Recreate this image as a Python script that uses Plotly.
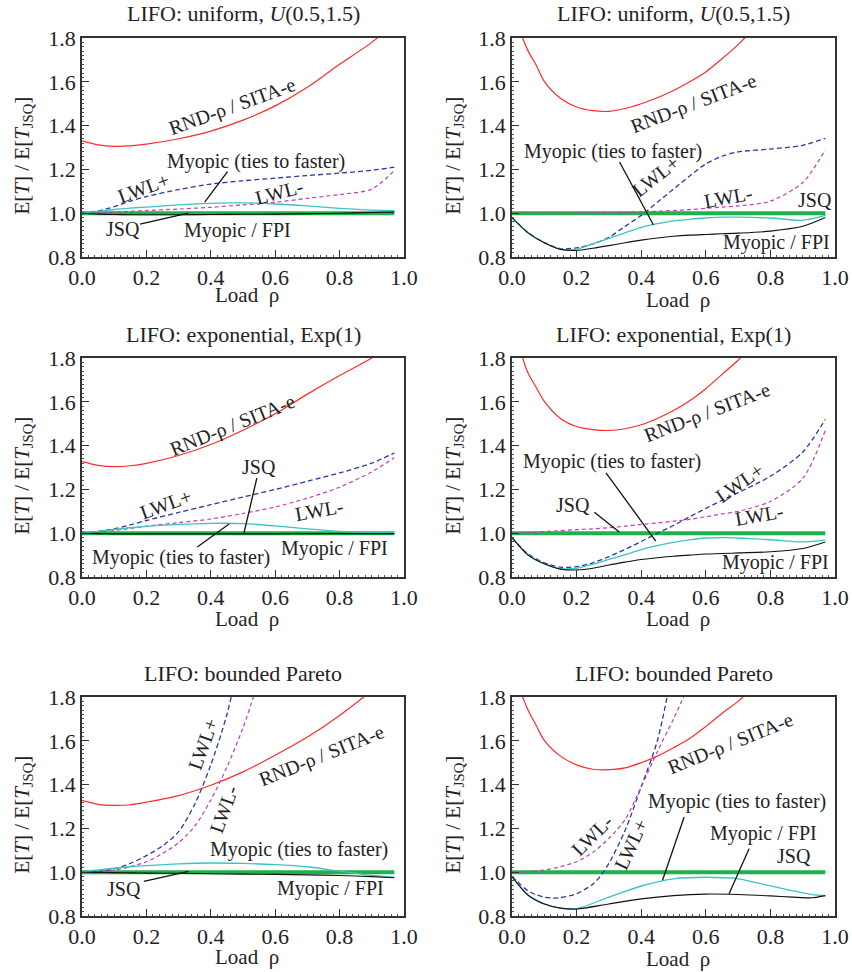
import plotly.graph_objects as go

# ---------------- data ----------------
RHO = [0.0, 0.05, 0.1, 0.15, 0.2, 0.3, 0.4, 0.5, 0.6, 0.7, 0.8, 0.9, 0.97]
RHO2 = [0.0, 0.05, 0.1, 0.15, 0.2, 0.25, 0.3, 0.35, 0.4, 0.45, 0.5, 0.55, 0.6, 0.65, 0.7, 0.8, 0.9, 0.97]
RHO_RED = [0.0, 0.033, 0.05, 0.075, 0.1, 0.15, 0.2, 0.25, 0.3, 0.35, 0.4, 0.45, 0.5, 0.55, 0.6, 0.65, 0.7, 0.75]
RHO_LWL = [0.0, 0.05, 0.1, 0.15, 0.2, 0.25, 0.3, 0.35, 0.4, 0.45, 0.5, 0.55]
RHO_BRB = [0.0, 0.025, 0.05, 0.075, 0.1, 0.125, 0.15, 0.2, 0.25, 0.275, 0.3, 0.35, 0.4, 0.45, 0.5]
RHO_BRM = [0.0, 0.05, 0.1, 0.15, 0.2, 0.3, 0.4, 0.5, 0.6, 0.7, 0.8, 0.87, 0.93, 0.97]
JSQ_X = [0.0, 0.97]
JSQ_Y = [1.0, 1.0]

# panel 1: uniform, left
p1_red = [1.33, 1.312, 1.305, 1.307, 1.315, 1.34, 1.375, 1.425, 1.49, 1.575, 1.68, 1.78, 1.87]
p1_lwlp = [1.0, 1.01, 1.03, 1.055, 1.076, 1.108, 1.133, 1.148, 1.16, 1.172, 1.183, 1.196, 1.21]
p1_lwlm = [1.0, 1.002, 1.005, 1.008, 1.012, 1.019, 1.027, 1.038, 1.05, 1.068, 1.085, 1.11, 1.195]
p1_myt = [1.0, 1.008, 1.017, 1.023, 1.028, 1.038, 1.045, 1.047, 1.042, 1.033, 1.022, 1.014, 1.012]
p1_fpi = [1.0, 0.996, 0.994, 0.993, 0.993, 0.993, 0.994, 0.995, 0.996, 0.998, 1.0, 1.003, 1.005]

# panel 2: uniform, right
p2_red = [1.95, 1.8, 1.74, 1.676, 1.602, 1.525, 1.485, 1.468, 1.465, 1.478, 1.5, 1.527, 1.56, 1.6, 1.645, 1.705, 1.77, 1.845]
p2_lwlp = [0.98, 0.91, 0.866, 0.838, 0.842, 0.86, 0.89, 0.94, 0.99, 1.05, 1.11, 1.17, 1.225, 1.26, 1.28, 1.293, 1.31, 1.342]
p2_lwlm = [1.0, 1.0, 1.0, 1.0, 1.001, 1.002, 1.003, 1.004, 1.006, 1.009, 1.012, 1.016, 1.022, 1.028, 1.033, 1.055, 1.14, 1.29]
p2_myt = [0.98, 0.91, 0.865, 0.836, 0.836, 0.86, 0.885, 0.91, 0.935, 0.952, 0.965, 0.972, 0.978, 0.982, 0.982, 0.978, 0.968, 0.99]
p2_fpi = [0.98, 0.91, 0.865, 0.835, 0.83, 0.84, 0.852, 0.865, 0.877, 0.887, 0.895, 0.9, 0.903, 0.906, 0.909, 0.918, 0.94, 0.98]

# panel 3: exponential, left
p3_red = [1.327, 1.31, 1.304, 1.308, 1.319, 1.355, 1.405, 1.47, 1.545, 1.635, 1.72, 1.8, 1.87]
p3_lwlp = [1.0, 1.008, 1.02, 1.038, 1.058, 1.095, 1.13, 1.165, 1.2, 1.237, 1.275, 1.32, 1.366]
p3_lwlm = [1.0, 1.005, 1.012, 1.022, 1.032, 1.048, 1.065, 1.09, 1.12, 1.16, 1.21, 1.28, 1.345]
p3_myt = [1.0, 1.008, 1.017, 1.025, 1.031, 1.04, 1.045, 1.044, 1.033, 1.02, 1.008, 1.003, 1.003]
p3_fpi = [1.0, 0.998, 0.997, 0.997, 0.997, 0.997, 0.997, 0.997, 0.997, 0.998, 0.998, 0.998, 0.998]

# panel 4: exponential, right
p4_red = [1.98, 1.8, 1.73, 1.665, 1.602, 1.524, 1.487, 1.473, 1.469, 1.477, 1.495, 1.524, 1.56, 1.605, 1.66, 1.725, 1.79, 1.865]
p4_lwlp = [0.98, 0.905, 0.865, 0.845, 0.847, 0.865, 0.893, 0.926, 0.962, 1.0, 1.035, 1.075, 1.113, 1.15, 1.185, 1.26, 1.37, 1.52]
p4_lwlm = [1.0, 1.003, 1.007, 1.012, 1.016, 1.02, 1.025, 1.032, 1.04, 1.047, 1.055, 1.063, 1.075, 1.088, 1.1, 1.145, 1.25, 1.47]
p4_myt = [0.98, 0.9, 0.86, 0.838, 0.84, 0.858, 0.88, 0.902, 0.925, 0.943, 0.958, 0.97, 0.978, 0.98, 0.978, 0.97, 0.96, 0.97]
p4_fpi = [0.98, 0.9, 0.86, 0.836, 0.832, 0.84, 0.855, 0.868, 0.88, 0.888, 0.895, 0.9, 0.905, 0.907, 0.91, 0.915, 0.93, 0.96]

# panel 5: bounded Pareto, left
p5_red = [1.328, 1.31, 1.305, 1.308, 1.32, 1.35, 1.397, 1.458, 1.534, 1.617, 1.716, 1.83, 1.92]
p5_lwlp = [1.0, 1.003, 1.015, 1.04, 1.076, 1.12, 1.185, 1.31, 1.49, 1.72, 2.05, 2.4]
p5_lwlm = [1.0, 1.002, 1.01, 1.025, 1.048, 1.085, 1.135, 1.21, 1.33, 1.48, 1.66, 1.88]
p5_myt = [1.0, 1.01, 1.018, 1.025, 1.03, 1.038, 1.042, 1.04, 1.035, 1.025, 1.005, 0.985, 0.977]
p5_fpi = [1.0, 0.999, 0.998, 0.997, 0.996, 0.995, 0.993, 0.991, 0.99, 0.988, 0.985, 0.98, 0.975]

# panel 6: bounded Pareto, right
p6_red = [1.95, 1.8, 1.74, 1.67, 1.602, 1.53, 1.49, 1.47, 1.468, 1.476, 1.5, 1.53, 1.568, 1.61, 1.665, 1.725, 1.78, 1.85]
p6_lwlp = [0.98, 0.945, 0.915, 0.897, 0.886, 0.882, 0.884, 0.902, 0.945, 0.985, 1.04, 1.19, 1.39, 1.6, 1.95]
p6_lwlm = [1.0, 1.002, 1.01, 1.025, 1.048, 1.09, 1.155, 1.24, 1.39, 1.55, 1.7, 1.86]
p6_myt = [0.98, 0.895, 0.855, 0.836, 0.834, 0.886, 0.937, 0.97, 0.977, 0.97, 0.938, 0.915, 0.898, 0.893]
p6_fpi = [0.98, 0.895, 0.855, 0.836, 0.832, 0.855, 0.878, 0.893, 0.9, 0.898, 0.892, 0.886, 0.883, 0.893]

X_TICKS = [0.0, 0.2, 0.4, 0.6, 0.8, 1.0]
Y_TICKS = [0.8, 1.0, 1.2, 1.4, 1.6, 1.8]
TITLES = ["LIFO: uniform, <i>U</i>(0.5,1.5)", "LIFO: uniform, <i>U</i>(0.5,1.5)",
          "LIFO: exponential, Exp(1)", "LIFO: exponential, Exp(1)",
          "LIFO: bounded Pareto", "LIFO: bounded Pareto"]

PANELS = [
    dict(red=(RHO, p1_red), lwlp=(RHO, p1_lwlp), lwlm=(RHO, p1_lwlm), myt=(RHO, p1_myt), fpi=(RHO, p1_fpi)),
    dict(red=(RHO_RED, p2_red), lwlp=(RHO2, p2_lwlp), lwlm=(RHO2, p2_lwlm), myt=(RHO2, p2_myt), fpi=(RHO2, p2_fpi)),
    dict(red=(RHO, p3_red), lwlp=(RHO, p3_lwlp), lwlm=(RHO, p3_lwlm), myt=(RHO, p3_myt), fpi=(RHO, p3_fpi)),
    dict(red=(RHO_RED, p4_red), lwlp=(RHO2, p4_lwlp), lwlm=(RHO2, p4_lwlm), myt=(RHO2, p4_myt), fpi=(RHO2, p4_fpi)),
    dict(red=(RHO, p5_red), lwlp=(RHO_LWL, p5_lwlp), lwlm=(RHO_LWL, p5_lwlm), myt=(RHO, p5_myt), fpi=(RHO, p5_fpi)),
    dict(red=(RHO_RED, p6_red), lwlp=(RHO_BRB, p6_lwlp), lwlm=(RHO_LWL, p6_lwlm), myt=(RHO_BRM, p6_myt), fpi=(RHO_BRM, p6_fpi)),
]

# curve labels: (text, x, y, angle)
LABELS = [
    [("RND-ρ / SITA-e", 0.467, 1.485, -20), ("Myopic (ties to faster)", 0.54, 1.234, 0),
     ("LWL+", 0.19, 1.115, -20), ("LWL-", 0.613, 1.095, -15), ("JSQ", 0.128, 0.928, 0),
     ("Myopic / FPI", 0.484, 0.923, 0)],
    [("RND-ρ / SITA-e", 0.562, 1.503, -21), ("Myopic (ties to faster)", 0.313, 1.28, 0),
     ("LWL+", 0.445, 1.17, -38), ("LWL-", 0.67, 1.074, -10), ("JSQ", 0.938, 1.06, 0),
     ("Myopic / FPI", 0.82, 0.864, 0)],
    [("RND-ρ / SITA-e", 0.466, 1.494, -22), ("JSQ", 0.549, 1.302, 0),
     ("LWL+", 0.26, 1.135, -20), ("LWL-", 0.738, 1.106, -10),
     ("Myopic (ties to faster)", 0.306, 0.887, 0), ("Myopic / FPI", 0.784, 0.932, 0)],
    [("RND-ρ / SITA-e", 0.605, 1.549, -21), ("Myopic (ties to faster)", 0.311, 1.329, 0),
     ("LWL+", 0.703, 1.23, -35), ("JSQ", 0.188, 1.131, 0), ("LWL-", 0.765, 1.083, -10),
     ("Myopic / FPI", 0.816, 0.865, 0)],
    [("LWL+", 0.375, 1.587, -70), ("LWL-", 0.44, 1.29, -70), ("RND-ρ / SITA-e", 0.745, 1.534, -22),
     ("Myopic (ties to faster)", 0.673, 1.103, 0), ("JSQ", 0.129, 0.925, 0), ("Myopic / FPI", 0.771, 0.925, 0)],
    [("RND-ρ / SITA-e", 0.677, 1.587, -22), ("Myopic (ties to faster)", 0.698, 1.325, 0),
     ("LWL-", 0.249, 1.168, -45), ("LWL+", 0.368, 1.13, -65), ("Myopic / FPI", 0.78, 1.176, 0),
     ("JSQ", 0.873, 1.072, 0)],
]

# pointer lines: (x0, y0, x1, y1)
POINTERS = [
    [(0.452, 1.19, 0.381, 1.051), (0.18, 0.95, 0.33, 1.0)],
    [(0.333, 1.234, 0.438, 0.946)],
    [(0.543, 1.252, 0.503, 1.0), (0.358, 0.937, 0.457, 1.042)],
    [(0.291, 1.276, 0.445, 0.964), (0.255, 1.096, 0.332, 1.005)],
    [(0.192, 0.958, 0.331, 1.004)],
    [(0.533, 1.252, 0.466, 0.963), (0.734, 1.107, 0.672, 0.902)],
]

# ---------------- layout geometry ----------------
W, H = 852, 972
XDOM = [(82 / W, 404 / W), (512 / W, 835 / W)]
YPIX = [(38, 257), (358, 577), (697, 916)]
TITLE_Y = [13, 334, 673]
YTITLE_X = [22, 453]
XTITLE_OFF = [38, 43, 42, 42, 41, 43]

FONT = "Liberation Serif"
C_RED = "#ff2a2a"
C_BLUE = "#2b3a9e"
C_MAG = "#c43cb4"
C_CYAN = "#3cc4c4"
C_GREEN = "#1fb14a"

fig = go.Figure()
annotations = []
shapes = []

for i, pan in enumerate(PANELS):
    row, col = divmod(i, 2)
    n = i + 1
    xa = "x" if n == 1 else f"x{n}"
    ya = "y" if n == 1 else f"y{n}"
    def add(xy, color, width, dash="solid"):
        fig.add_trace(go.Scatter(x=xy[0], y=xy[1], mode="lines", xaxis=xa, yaxis=ya,
                                 line=dict(color=color, width=width, dash=dash, shape="spline", smoothing=0.8),
                                 showlegend=False, hoverinfo="skip"))
    add((JSQ_X, JSQ_Y), C_GREEN, 4)
    add(pan["red"], C_RED, 1.2)
    add(pan["lwlp"], C_BLUE, 1.3, "5px,3px")
    add(pan["lwlm"], C_MAG, 1.2, "4px,3px")
    add(pan["myt"], C_CYAN, 1.3)
    add(pan["fpi"], "#111111", 1.1)

    axcommon = dict(showgrid=False, zeroline=False, showline=True, linecolor="#333", linewidth=1.5,
                    mirror=True, ticks="inside", ticklen=7, tickwidth=1.2, tickcolor="#333",
                    automargin=False, tickfont=dict(family=FONT, size=22, color="#222"))
    ydom = (1 - YPIX[row][1] / H, 1 - YPIX[row][0] / H)
    fig.layout[("xaxis" if n == 1 else f"xaxis{n}")] = dict(
        domain=XDOM[col], range=[0, 1], anchor=ya, tickvals=X_TICKS,
        ticktext=[f"{v:.1f}" for v in X_TICKS],
        minor=dict(ticks="inside", ticklen=2, dtick=0.02, tickcolor="#555"), **axcommon)
    fig.layout[("yaxis" if n == 1 else f"yaxis{n}")] = dict(
        domain=ydom, range=[0.8, 1.8], anchor=xa, tickvals=Y_TICKS,
        ticktext=[f"{v:.1f}" for v in Y_TICKS],
        minor=dict(ticks="inside", ticklen=2, dtick=0.02, tickcolor="#555"), **axcommon)

    xc = (XDOM[col][0] + XDOM[col][1]) / 2
    # panel title
    annotations.append(dict(text=TITLES[i], x=xc, y=1 - TITLE_Y[row] / H, xref="paper", yref="paper",
                            showarrow=False, font=dict(family=FONT, size=22, color="#222"),
                            xanchor="center", yanchor="middle"))
    # x-axis title
    annotations.append(dict(text="Load&nbsp; ρ", x=xc + 4 / W, y=1 - (YPIX[row][1] + XTITLE_OFF[i]) / H,
                            xref="paper", yref="paper", showarrow=False,
                            font=dict(family=FONT, size=21, color="#222"),
                            xanchor="center", yanchor="middle"))
    # y-axis title
    annotations.append(dict(text="E[<i>T</i>] / E[<i>T</i><sub>JSQ</sub>]", x=YTITLE_X[col] / W,
                            y=1 - ((YPIX[row][0] + YPIX[row][1]) / 2 + 8) / H, xref="paper", yref="paper",
                            showarrow=False, textangle=-90, font=dict(family=FONT, size=21, color="#222"),
                            xanchor="center", yanchor="middle"))
    for (txt, lx, ly, ang) in LABELS[i]:
        annotations.append(dict(text=txt, x=lx, y=ly, xref=xa, yref=ya, showarrow=False, textangle=ang,
                                font=dict(family=FONT, size=20, color="#222"),
                                xanchor="center", yanchor="middle"))
    for (x0, y0, x1, y1) in POINTERS[i]:
        shapes.append(dict(type="line", x0=x0, y0=y0, x1=x1, y1=y1, xref=xa, yref=ya,
                           line=dict(color="#111", width=1.3)))

fig.update_layout(template="none", width=W, height=H, margin=dict(l=0, r=0, t=0, b=0, autoexpand=False),
                  paper_bgcolor="white", plot_bgcolor="white", font=dict(family=FONT),
                  annotations=annotations, shapes=shapes, showlegend=False)
fig.write_html("out.html", config={"displayModeBar": False},
               post_script="document.body.style.margin='0';")
